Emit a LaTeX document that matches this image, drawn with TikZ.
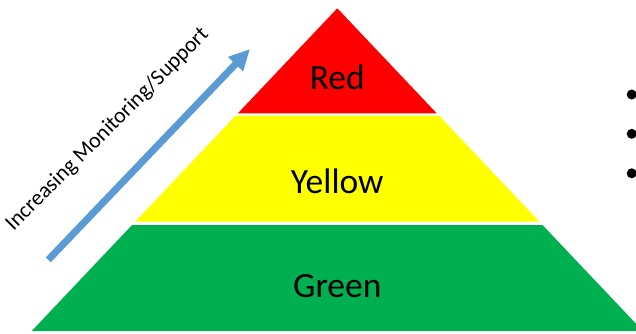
\documentclass[tikz,border=0pt]{standalone}
\usepackage{fontspec}
\setmainfont{Carlito}
\usetikzlibrary{arrows.meta}
\definecolor{lvred}{HTML}{FF0000}
\definecolor{lvyellow}{HTML}{FFFF00}
\definecolor{lvgreen}{HTML}{00B050}
\definecolor{arrowblue}{HTML}{5B9BD5}
\tikzset{
  layer/.style={draw=none},
  layerlabel/.style={anchor=base, inner sep=0pt, font=\fontsize{35.5bp}{40bp}\selectfont},
  sidelabel/.style={anchor=base west, inner sep=0pt, rotate=45, font=\fontsize{22bp}{26bp}\selectfont},
  risearrow/.style={draw=arrowblue, line width=7bp, -{Triangle[width=19.5bp,length=21bp]}},
  bulletdot/.style={circle, fill=black, inner sep=0pt, minimum size=10bp}
}
\begin{document}
\begin{tikzpicture}[x=1bp,y=-1bp]
\useasboundingbox (0,0) rectangle (636,333);
% layers (apex 337.3,8.3 ; half-width = 0.947*(y-8.3))
\fill[lvred, layer] (337.3,8.3) -- (436.7,113.3) -- (237.9,113.3) -- cycle;
\fill[lvyellow, layer] (235.6,115.7) -- (439.0,115.7) -- (539.4,221.7) -- (135.2,221.7) -- cycle;
\fill[lvgreen, layer] (132.1,225) -- (542.5,225) -- (642.9,331) -- (31.7,331) -- cycle;
% labels
\node[layerlabel] (red) at (337.3,89.3) {Red};
\node[layerlabel] (yellow) at (337.3,193.3) {Yellow};
\node[layerlabel] (green) at (337.3,297.7) {Green};
% side label and arrow
\node[sidelabel] (side) at (13.5,231.5) {Increasing Monitoring/Support};
\coordinate (atail) at (48.3,259.8);
\coordinate (ahead) at (250,49);
\draw[risearrow] (atail) -- (ahead);
% bullets
\node[bulletdot] (b1) at (631.7,94.5) {};
\node[bulletdot] (b2) at (631.7,133.8) {};
\node[bulletdot] (b3) at (631.7,173.3) {};
\end{tikzpicture}
\end{document}
